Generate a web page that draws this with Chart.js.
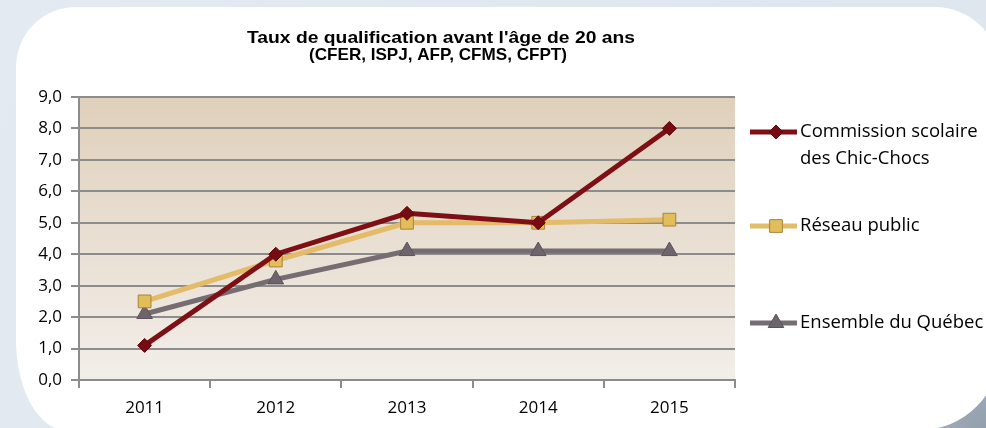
<!DOCTYPE html>
<html>
<head>
<meta charset="utf-8">
<script src="https://cdn.jsdelivr.net/npm/chart.js@4.4.0/dist/chart.umd.min.js"></script>
<style>
  html, body { margin: 0; padding: 0; width: 986px; height: 428px; overflow: hidden; }
  body {
    background: radial-gradient(circle at 100% 100%, #949fae 0px, #a6b1bf 70px, #cfd9e5 150px, #dde5ee 260px, #e3eaf2 100%);
    position: relative;
  }
  #panel {
    position: absolute; left: 16px; top: 7px; width: 984px; height: 423px;
    background: #ffffff;
    border-radius: 60px 65px 80px 50px / 60px 65px 80px 90px;
  }
  #wrap { position: absolute; left: 0; top: 0; width: 986px; height: 428px; }
</style>
</head>
<body>
<div id="panel"></div>
<div id="wrap"><canvas id="c" width="986" height="428"></canvas></div>
<script>
const titleLines = ["Taux de qualification avant l'âge de 20 ans", "(CFER, ISPJ, AFP, CFMS, CFPT)"];
const categories = ["2011", "2012", "2013", "2014", "2015"];
const commission = [1.1, 4.0, 5.3, 5.0, 8.0];
const reseau = [2.5, 3.8, 5.0, 5.0, 5.1];
const ensemble = [2.1, 3.2, 4.1, 4.1, 4.1];
const seriesLabels = [["Commission scolaire", "des Chic-Chocs"], ["Réseau public"], ["Ensemble du Québec"]];
const yTickLabels = ["0,0", "1,0", "2,0", "3,0", "4,0", "5,0", "6,0", "7,0", "8,0", "9,0"];

const TICK_FONT = "'Open Sans', sans-serif";

const bgPlugin = {
  id: 'plotBg',
  beforeDraw(chart) {
    const a = chart.chartArea, ctx = chart.ctx;
    const g = ctx.createLinearGradient(0, a.top, 0, a.bottom);
    g.addColorStop(0, '#dfd0bb');
    g.addColorStop(1, '#f2eee9');
    ctx.save();
    ctx.fillStyle = g;
    ctx.fillRect(a.left, a.top, a.right - a.left, a.bottom - a.top);
    ctx.restore();
  }
};

function drawMarker(ctx, style, x, y, r, fill, stroke) {
  ctx.save();
  ctx.fillStyle = fill; ctx.strokeStyle = stroke; ctx.lineWidth = 1;
  ctx.beginPath();
  if (style === 'rectRot') {
    ctx.moveTo(x, y - r); ctx.lineTo(x + r, y); ctx.lineTo(x, y + r); ctx.lineTo(x - r, y); ctx.closePath();
  } else if (style === 'rect') {
    const s = r * Math.SQRT1_2;
    ctx.rect(x - s, y - s, 2 * s, 2 * s);
  } else if (style === 'triangle') {
    ctx.moveTo(x, y - r); ctx.lineTo(x + r * 0.866, y + r / 2); ctx.lineTo(x - r * 0.866, y + r / 2); ctx.closePath();
  }
  ctx.fill(); ctx.stroke();
  ctx.restore();
}

function drawStretched(ctx, text, cx, cy, targetW) {
  const w = ctx.measureText(text).width;
  const k = targetW ? targetW / w : 1;
  ctx.save();
  ctx.translate(cx, cy);
  ctx.scale(k, 1);
  ctx.fillText(text, 0, 0);
  ctx.restore();
}

const textPlugin = {
  id: 'textPlugin',
  afterDraw(chart) {
    const ctx = chart.ctx;
    ctx.save();
    // title
    ctx.fillStyle = '#000';
    ctx.font = "bold 17px 'Liberation Sans', Arial, sans-serif";
    ctx.textAlign = 'center';
    ctx.textBaseline = 'middle';
    drawStretched(ctx, titleLines[0], 441, 38, 388);
    drawStretched(ctx, titleLines[1], 438, 55, 258);
    // legend
    const ys = [132, 226, 323];
    chart.data.datasets.forEach((ds, i) => {
      const y = ys[i];
      ctx.strokeStyle = ds.borderColor;
      ctx.lineWidth = 5;
      ctx.beginPath();
      ctx.moveTo(750, y); ctx.lineTo(797, y);
      ctx.stroke();
      drawMarker(ctx, ds.pointStyle, 776, y, ds.pointRadius, ds.pointBackgroundColor, ds.pointBorderColor);
      ctx.fillStyle = '#000';
      ctx.font = "18.5px 'Open Sans', sans-serif";
      ctx.textAlign = 'left';
      ctx.textBaseline = 'middle';
      seriesLabels[i].forEach((t, k) => ctx.fillText(t, 800, y + k * 27));
    });
    ctx.restore();
  }
};

new Chart(document.getElementById('c'), {
  type: 'line',
  data: {
    labels: categories,
    datasets: [
      { label: seriesLabels[0].join(' '), data: commission, borderColor: '#7d0f15', borderWidth: 5,
        pointStyle: 'rectRot', pointRadius: 7, pointBackgroundColor: '#760c12', pointBorderColor: '#5e070c', pointBorderWidth: 1, tension: 0 },
      { label: seriesLabels[1].join(' '), data: reseau, borderColor: '#e3bb69', borderWidth: 5,
        pointStyle: 'rect', pointRadius: 9, pointBackgroundColor: '#e2bd5c', pointBorderColor: '#a98335', pointBorderWidth: 1, tension: 0 },
      { label: seriesLabels[2].join(' '), data: ensemble, borderColor: '#766d73', borderWidth: 5,
        pointStyle: 'triangle', pointRadius: 9, pointBackgroundColor: '#6d646c', pointBorderColor: '#5b535a', pointBorderWidth: 1, tension: 0 }
    ]
  },
  options: {
    responsive: false,
    animation: false,
    layout: { padding: { top: 97, right: 251, bottom: 0, left: 0 } },
    plugins: { legend: { display: false }, title: { display: false }, tooltip: { enabled: false } },
    scales: {
      x: {
        offset: true,
        afterFit(s) { s.height = 48; },
        grid: { display: true, drawOnChartArea: false, drawTicks: true, tickLength: 8, offset: true, color: '#8c8c8c', lineWidth: 2 },
        border: { display: true, color: '#8c8c8c', width: 2 },
        ticks: { color: '#000', font: { family: TICK_FONT, size: 17 }, padding: 10, maxRotation: 0 }
      },
      y: {
        min: 0, max: 9,
        afterFit(s) { s.width = 79; },
        grid: { color: '#8c8c8c', lineWidth: 2, tickLength: 8, drawTicks: true },
        border: { display: true, color: '#8c8c8c', width: 2 },
        ticks: { stepSize: 1, color: '#000', font: { family: TICK_FONT, size: 17 }, padding: 9,
          callback: (v, idx) => yTickLabels[idx] }
      }
    }
  },
  plugins: [bgPlugin, textPlugin]
});
</script>
</body>
</html>
